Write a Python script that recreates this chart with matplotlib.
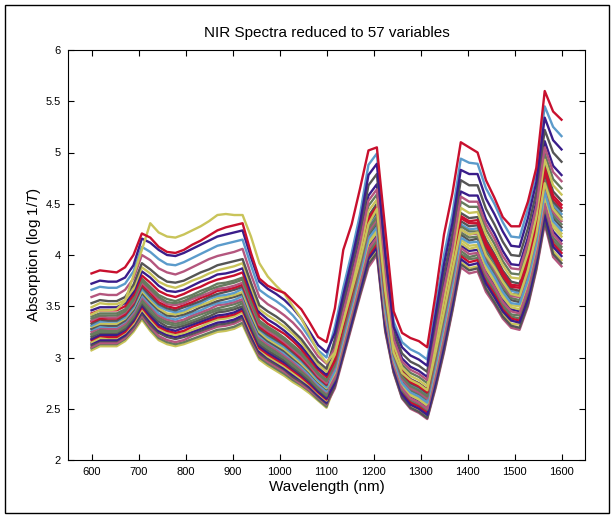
import matplotlib
matplotlib.use('Agg')
import matplotlib.pyplot as plt
import numpy as np
from matplotlib.patches import Rectangle

plt.rcParams['font.family'] = ['Liberation Sans', 'DejaVu Sans']
plt.rcParams['mathtext.fontset'] = 'custom'
plt.rcParams['mathtext.rm'] = 'Liberation Sans'
plt.rcParams['mathtext.it'] = 'Liberation Sans:italic'

# wavelength grid: 57 variables between 600 and 1600 nm
wavelength = np.linspace(600, 1600, 57)

xticks = [600, 700, 800, 900, 1000, 1100, 1200, 1300, 1400, 1500, 1600]
yticks = [2, 2.5, 3, 3.5, 4, 4.5, 5, 5.5, 6]
ytick_labels = ['2', '2.5', '3', '3.5', '4', '4.5', '5', '5.5', '6']

s01 = [3.07, 3.11, 3.11, 3.11, 3.16, 3.25, 3.37, 3.26, 3.17, 3.13, 3.11, 3.13, 3.16, 3.19, 3.22, 3.25, 3.26, 3.28, 3.32, 3.14, 2.98, 2.92, 2.87, 2.82, 2.76, 2.71, 2.65, 2.58, 2.51, 2.73, 3.03, 3.34, 3.64, 3.93, 4.05, 3.29, 2.88, 2.63, 2.53, 2.49, 2.43, 2.74, 3.10, 3.50, 3.93, 3.87, 3.89, 3.69, 3.57, 3.43, 3.33, 3.32, 3.55, 3.90, 4.36, 4.04, 3.95]
s02 = [3.10, 3.14, 3.14, 3.14, 3.19, 3.28, 3.41, 3.30, 3.21, 3.17, 3.15, 3.17, 3.21, 3.24, 3.27, 3.30, 3.31, 3.33, 3.37, 3.18, 3.02, 2.96, 2.91, 2.86, 2.80, 2.74, 2.68, 2.61, 2.54, 2.70, 3.00, 3.30, 3.60, 3.88, 4.00, 3.25, 2.85, 2.60, 2.50, 2.46, 2.40, 2.70, 3.05, 3.45, 3.88, 3.82, 3.84, 3.64, 3.52, 3.38, 3.29, 3.27, 3.50, 3.85, 4.30, 3.98, 3.89]
s03 = [3.14, 3.17, 3.17, 3.17, 3.22, 3.32, 3.45, 3.35, 3.26, 3.22, 3.20, 3.22, 3.25, 3.28, 3.31, 3.34, 3.35, 3.37, 3.41, 3.22, 3.06, 3.00, 2.95, 2.89, 2.83, 2.78, 2.71, 2.63, 2.56, 2.82, 3.14, 3.44, 3.76, 4.08, 4.20, 3.42, 2.95, 2.71, 2.62, 2.58, 2.52, 2.86, 3.24, 3.64, 4.09, 4.04, 4.05, 3.84, 3.72, 3.57, 3.47, 3.45, 3.69, 4.04, 4.53, 4.23, 4.14]
s04 = [3.17, 3.21, 3.20, 3.20, 3.25, 3.35, 3.49, 3.39, 3.30, 3.26, 3.24, 3.26, 3.30, 3.33, 3.36, 3.39, 3.40, 3.42, 3.46, 3.27, 3.09, 3.03, 2.98, 2.93, 2.87, 2.81, 2.74, 2.66, 2.59, 2.76, 3.07, 3.37, 3.68, 3.98, 4.10, 3.34, 2.90, 2.66, 2.56, 2.52, 2.46, 2.78, 3.15, 3.55, 3.99, 3.93, 3.95, 3.74, 3.62, 3.47, 3.38, 3.36, 3.60, 3.95, 4.42, 4.11, 4.02]
s05 = [3.20, 3.24, 3.24, 3.24, 3.28, 3.38, 3.53, 3.43, 3.35, 3.30, 3.29, 3.31, 3.34, 3.37, 3.40, 3.44, 3.45, 3.47, 3.50, 3.31, 3.13, 3.07, 3.02, 2.97, 2.90, 2.84, 2.77, 2.69, 2.62, 2.88, 3.20, 3.52, 3.84, 4.18, 4.30, 3.51, 3.00, 2.77, 2.67, 2.63, 2.57, 2.94, 3.34, 3.74, 4.20, 4.14, 4.16, 3.94, 3.81, 3.66, 3.56, 3.54, 3.79, 4.14, 4.65, 4.36, 4.27]
s06 = [3.23, 3.27, 3.27, 3.27, 3.32, 3.41, 3.57, 3.48, 3.39, 3.35, 3.33, 3.35, 3.39, 3.42, 3.45, 3.48, 3.50, 3.52, 3.55, 3.35, 3.17, 3.11, 3.06, 3.01, 2.94, 2.88, 2.80, 2.72, 2.65, 2.79, 3.10, 3.41, 3.72, 4.03, 4.15, 3.38, 2.93, 2.68, 2.59, 2.55, 2.49, 2.82, 3.19, 3.59, 4.04, 3.98, 4.00, 3.79, 3.67, 3.52, 3.42, 3.41, 3.64, 3.99, 4.47, 4.17, 4.08]
s07 = [3.27, 3.30, 3.30, 3.30, 3.35, 3.45, 3.61, 3.52, 3.43, 3.39, 3.37, 3.40, 3.43, 3.46, 3.50, 3.53, 3.54, 3.56, 3.60, 3.39, 3.21, 3.15, 3.10, 3.04, 2.98, 2.91, 2.83, 2.74, 2.67, 2.94, 3.27, 3.59, 3.92, 4.28, 4.40, 3.59, 3.05, 2.82, 2.73, 2.69, 2.63, 3.02, 3.43, 3.83, 4.30, 4.25, 4.26, 4.04, 3.91, 3.76, 3.65, 3.63, 3.88, 4.23, 4.76, 4.49, 4.40]
s08 = [3.30, 3.33, 3.33, 3.33, 3.38, 3.48, 3.65, 3.56, 3.48, 3.43, 3.42, 3.44, 3.48, 3.51, 3.54, 3.58, 3.59, 3.61, 3.64, 3.43, 3.25, 3.18, 3.13, 3.08, 3.01, 2.94, 2.86, 2.77, 2.70, 2.85, 3.17, 3.48, 3.80, 4.13, 4.25, 3.46, 2.98, 2.74, 2.65, 2.61, 2.55, 2.90, 3.29, 3.69, 4.15, 4.09, 4.10, 3.89, 3.77, 3.62, 3.51, 3.50, 3.74, 4.09, 4.59, 4.30, 4.21]
s09 = [3.33, 3.37, 3.36, 3.36, 3.41, 3.51, 3.69, 3.60, 3.52, 3.48, 3.46, 3.49, 3.52, 3.55, 3.59, 3.62, 3.64, 3.66, 3.69, 3.48, 3.28, 3.22, 3.17, 3.12, 3.05, 2.98, 2.89, 2.80, 2.73, 3.00, 3.34, 3.66, 4.00, 4.38, 4.50, 3.68, 3.10, 2.88, 2.79, 2.75, 2.69, 3.10, 3.53, 3.93, 4.41, 4.36, 4.37, 4.15, 4.01, 3.85, 3.74, 3.72, 3.98, 4.33, 4.88, 4.62, 4.53]
s10 = [3.36, 3.40, 3.39, 3.39, 3.44, 3.54, 3.73, 3.65, 3.57, 3.52, 3.51, 3.53, 3.57, 3.60, 3.63, 3.67, 3.68, 3.70, 3.73, 3.52, 3.32, 3.26, 3.21, 3.15, 3.08, 3.01, 2.92, 2.82, 2.75, 2.91, 3.24, 3.55, 3.88, 4.23, 4.35, 3.55, 3.03, 2.79, 2.70, 2.66, 2.60, 2.98, 3.38, 3.78, 4.25, 4.20, 4.21, 3.99, 3.86, 3.71, 3.60, 3.59, 3.83, 4.18, 4.70, 4.42, 4.33]
s11 = [3.40, 3.43, 3.43, 3.43, 3.47, 3.58, 3.77, 3.69, 3.61, 3.57, 3.55, 3.58, 3.61, 3.65, 3.68, 3.72, 3.73, 3.75, 3.78, 3.56, 3.36, 3.30, 3.25, 3.19, 3.12, 3.05, 2.95, 2.85, 2.78, 3.06, 3.41, 3.73, 4.08, 4.48, 4.59, 3.76, 3.15, 2.93, 2.85, 2.81, 2.75, 3.18, 3.62, 4.02, 4.52, 4.47, 4.47, 4.25, 4.11, 3.94, 3.82, 3.81, 4.07, 4.42, 4.99, 4.74, 4.65]
s12 = [3.43, 3.46, 3.46, 3.46, 3.50, 3.61, 3.80, 3.73, 3.65, 3.61, 3.59, 3.62, 3.66, 3.69, 3.73, 3.76, 3.78, 3.80, 3.83, 3.60, 3.40, 3.33, 3.28, 3.23, 3.16, 3.08, 2.98, 2.88, 2.81, 2.97, 3.31, 3.62, 3.96, 4.33, 4.45, 3.63, 3.08, 2.85, 2.76, 2.72, 2.66, 3.06, 3.48, 3.88, 4.36, 4.31, 4.31, 4.09, 3.96, 3.80, 3.69, 3.68, 3.93, 4.28, 4.82, 4.55, 4.46]
s13 = [3.46, 3.49, 3.49, 3.49, 3.53, 3.64, 3.84, 3.78, 3.70, 3.65, 3.64, 3.66, 3.70, 3.74, 3.77, 3.81, 3.82, 3.84, 3.87, 3.64, 3.44, 3.37, 3.32, 3.26, 3.19, 3.11, 3.01, 2.90, 2.83, 3.12, 3.48, 3.80, 4.16, 4.58, 4.69, 3.85, 3.20, 2.99, 2.91, 2.87, 2.81, 3.26, 3.72, 4.12, 4.62, 4.58, 4.58, 4.35, 4.21, 4.04, 3.91, 3.90, 4.17, 4.52, 5.11, 4.87, 4.78]
s14 = [3.49, 3.53, 3.52, 3.52, 3.56, 3.67, 3.88, 3.82, 3.74, 3.70, 3.68, 3.71, 3.75, 3.78, 3.82, 3.85, 3.87, 3.89, 3.92, 3.69, 3.47, 3.41, 3.36, 3.30, 3.23, 3.15, 3.04, 2.93, 2.86, 3.03, 3.37, 3.70, 4.04, 4.43, 4.54, 3.72, 3.13, 2.90, 2.82, 2.78, 2.72, 3.14, 3.57, 3.97, 4.46, 4.41, 4.42, 4.20, 4.06, 3.90, 3.78, 3.77, 4.02, 4.37, 4.93, 4.68, 4.59]
s15 = [3.53, 3.56, 3.55, 3.55, 3.59, 3.71, 3.92, 3.86, 3.79, 3.74, 3.73, 3.75, 3.79, 3.83, 3.86, 3.90, 3.92, 3.94, 3.96, 3.73, 3.51, 3.45, 3.40, 3.34, 3.26, 3.18, 3.07, 2.96, 2.89, 3.18, 3.54, 3.88, 4.24, 4.68, 4.79, 3.93, 3.25, 3.04, 2.96, 2.92, 2.86, 3.34, 3.81, 4.21, 4.73, 4.68, 4.68, 4.45, 4.30, 4.13, 4.00, 3.99, 4.26, 4.61, 5.22, 5.00, 4.91]
s16 = [3.59, 3.62, 3.61, 3.61, 3.66, 3.77, 4.00, 3.95, 3.87, 3.83, 3.81, 3.84, 3.88, 3.92, 3.96, 3.99, 4.01, 4.03, 4.06, 3.81, 3.59, 3.52, 3.47, 3.41, 3.34, 3.25, 3.13, 3.01, 2.94, 3.09, 3.44, 3.77, 4.12, 4.53, 4.64, 3.80, 3.18, 2.96, 2.88, 2.84, 2.78, 3.22, 3.67, 4.07, 4.57, 4.52, 4.52, 4.30, 4.16, 3.99, 3.87, 3.86, 4.12, 4.47, 5.05, 4.81, 4.72]
s17 = [3.66, 3.69, 3.68, 3.68, 3.72, 3.84, 4.08, 4.03, 3.96, 3.91, 3.90, 3.93, 3.97, 4.01, 4.05, 4.09, 4.11, 4.13, 4.15, 3.90, 3.66, 3.60, 3.55, 3.49, 3.41, 3.31, 3.19, 3.07, 3.00, 3.30, 3.68, 4.02, 4.40, 4.88, 4.99, 4.10, 3.35, 3.15, 3.08, 3.04, 2.98, 3.50, 4.00, 4.40, 4.94, 4.90, 4.89, 4.65, 4.50, 4.32, 4.18, 4.17, 4.45, 4.80, 5.45, 5.25, 5.16]
s18 = [3.72, 3.75, 3.74, 3.74, 3.78, 3.90, 4.16, 4.12, 4.05, 4.00, 3.99, 4.02, 4.06, 4.10, 4.14, 4.18, 4.20, 4.22, 4.24, 3.98, 3.74, 3.67, 3.62, 3.56, 3.48, 3.38, 3.25, 3.12, 3.05, 3.24, 3.61, 3.95, 4.32, 4.78, 4.89, 4.02, 3.30, 3.10, 3.02, 2.98, 2.92, 3.42, 3.91, 4.31, 4.83, 4.79, 4.79, 4.55, 4.40, 4.23, 4.09, 4.08, 4.36, 4.71, 5.34, 5.12, 5.03]
t01 = [3.09, 3.13, 3.13, 3.13, 3.18, 3.27, 3.39, 3.28, 3.19, 3.15, 3.13, 3.15, 3.18, 3.21, 3.24, 3.27, 3.28, 3.30, 3.34, 3.16, 3.00, 2.94, 2.89, 2.84, 2.78, 2.73, 2.67, 2.59, 2.52, 2.78, 3.09, 3.39, 3.70, 4.01, 4.12, 3.36, 2.91, 2.67, 2.57, 2.53, 2.47, 2.80, 3.17, 3.57, 4.01, 3.96, 3.97, 3.77, 3.64, 3.50, 3.40, 3.38, 3.62, 3.97, 4.44, 4.14, 4.05]
t02 = [3.12, 3.16, 3.16, 3.16, 3.21, 3.30, 3.43, 3.32, 3.24, 3.20, 3.18, 3.20, 3.23, 3.26, 3.29, 3.32, 3.33, 3.35, 3.39, 3.20, 3.04, 2.98, 2.93, 2.88, 2.81, 2.76, 2.70, 2.62, 2.55, 2.72, 3.02, 3.32, 3.62, 3.91, 4.02, 3.27, 2.86, 2.61, 2.51, 2.47, 2.41, 2.72, 3.07, 3.47, 3.91, 3.85, 3.87, 3.67, 3.54, 3.40, 3.31, 3.29, 3.52, 3.87, 4.33, 4.01, 3.92]
t03 = [3.15, 3.19, 3.19, 3.19, 3.24, 3.33, 3.47, 3.37, 3.28, 3.24, 3.22, 3.24, 3.27, 3.30, 3.34, 3.37, 3.38, 3.40, 3.44, 3.25, 3.08, 3.01, 2.96, 2.91, 2.85, 2.79, 2.73, 2.65, 2.58, 2.84, 3.15, 3.46, 3.78, 4.11, 4.22, 3.44, 2.96, 2.72, 2.63, 2.59, 2.53, 2.88, 3.26, 3.66, 4.12, 4.06, 4.08, 3.87, 3.74, 3.59, 3.49, 3.47, 3.71, 4.06, 4.56, 4.27, 4.18]
t04 = [3.18, 3.22, 3.22, 3.22, 3.27, 3.36, 3.51, 3.41, 3.32, 3.28, 3.26, 3.29, 3.32, 3.35, 3.38, 3.41, 3.42, 3.44, 3.48, 3.29, 3.11, 3.05, 3.00, 2.95, 2.89, 2.83, 2.76, 2.67, 2.60, 2.75, 3.05, 3.35, 3.66, 3.96, 4.07, 3.31, 2.89, 2.64, 2.54, 2.50, 2.44, 2.76, 3.12, 3.52, 3.96, 3.90, 3.92, 3.72, 3.59, 3.45, 3.36, 3.34, 3.57, 3.92, 4.39, 4.08, 3.99]
t05 = [3.22, 3.25, 3.25, 3.25, 3.30, 3.40, 3.55, 3.45, 3.37, 3.33, 3.31, 3.33, 3.36, 3.39, 3.43, 3.46, 3.47, 3.49, 3.53, 3.33, 3.15, 3.09, 3.04, 2.99, 2.92, 2.86, 2.79, 2.70, 2.63, 2.90, 3.22, 3.53, 3.86, 4.21, 4.32, 3.53, 3.01, 2.78, 2.69, 2.65, 2.59, 2.96, 3.36, 3.76, 4.22, 4.17, 4.18, 3.97, 3.84, 3.69, 3.58, 3.56, 3.81, 4.16, 4.67, 4.39, 4.30]
t06 = [3.25, 3.29, 3.28, 3.28, 3.33, 3.43, 3.59, 3.50, 3.41, 3.37, 3.35, 3.37, 3.41, 3.44, 3.47, 3.51, 3.52, 3.54, 3.57, 3.37, 3.19, 3.13, 3.08, 3.02, 2.96, 2.89, 2.82, 2.73, 2.66, 2.81, 3.12, 3.43, 3.74, 4.06, 4.17, 3.40, 2.94, 2.70, 2.60, 2.56, 2.50, 2.84, 3.22, 3.62, 4.07, 4.01, 4.02, 3.82, 3.69, 3.54, 3.45, 3.43, 3.67, 4.02, 4.50, 4.20, 4.11]
t07 = [3.28, 3.32, 3.31, 3.31, 3.36, 3.46, 3.63, 3.54, 3.46, 3.41, 3.40, 3.42, 3.45, 3.49, 3.52, 3.55, 3.57, 3.59, 3.62, 3.41, 3.23, 3.16, 3.11, 3.06, 2.99, 2.93, 2.85, 2.76, 2.69, 2.96, 3.29, 3.61, 3.94, 4.31, 4.42, 3.61, 3.06, 2.83, 2.75, 2.71, 2.65, 3.04, 3.45, 3.85, 4.33, 4.28, 4.29, 4.07, 3.94, 3.78, 3.67, 3.65, 3.90, 4.25, 4.79, 4.52, 4.43]
t08 = [3.31, 3.35, 3.35, 3.35, 3.39, 3.49, 3.67, 3.58, 3.50, 3.46, 3.44, 3.46, 3.50, 3.53, 3.57, 3.60, 3.61, 3.63, 3.67, 3.46, 3.27, 3.20, 3.15, 3.10, 3.03, 2.96, 2.88, 2.78, 2.71, 2.87, 3.19, 3.50, 3.82, 4.16, 4.27, 3.48, 2.99, 2.75, 2.66, 2.62, 2.56, 2.92, 3.31, 3.71, 4.17, 4.12, 4.13, 3.92, 3.79, 3.64, 3.53, 3.52, 3.76, 4.11, 4.62, 4.33, 4.24]
t09 = [3.35, 3.38, 3.38, 3.38, 3.42, 3.53, 3.71, 3.63, 3.54, 3.50, 3.48, 3.51, 3.54, 3.58, 3.61, 3.65, 3.66, 3.68, 3.71, 3.50, 3.30, 3.24, 3.19, 3.13, 3.07, 2.99, 2.91, 2.81, 2.74, 2.99, 3.32, 3.64, 3.98, 4.36, 4.47, 3.65, 3.09, 2.86, 2.78, 2.74, 2.68, 3.08, 3.50, 3.90, 4.38, 4.33, 4.34, 4.12, 3.99, 3.83, 3.71, 3.70, 3.95, 4.30, 4.85, 4.58, 4.49]
t10 = [3.38, 3.41, 3.41, 3.41, 3.45, 3.56, 3.75, 3.67, 3.59, 3.54, 3.53, 3.55, 3.59, 3.62, 3.66, 3.69, 3.71, 3.73, 3.76, 3.54, 3.34, 3.28, 3.23, 3.17, 3.10, 3.03, 2.94, 2.84, 2.77, 2.93, 3.26, 3.57, 3.90, 4.26, 4.37, 3.57, 3.04, 2.81, 2.72, 2.68, 2.62, 3.00, 3.41, 3.81, 4.28, 4.23, 4.23, 4.02, 3.89, 3.73, 3.62, 3.61, 3.86, 4.21, 4.73, 4.46, 4.37]
s_yellow_high = [3.42, 3.46, 3.46, 3.47, 3.55, 3.80, 4.05, 4.31, 4.22, 4.18, 4.17, 4.20, 4.24, 4.28, 4.33, 4.39, 4.40, 4.39, 4.39, 4.18, 3.92, 3.79, 3.70, 3.62, 3.50, 3.38, 3.22, 3.05, 2.95, 3.05, 3.35, 3.65, 3.95, 4.30, 4.45, 3.65, 3.05, 2.85, 2.78, 2.74, 2.68, 3.05, 3.45, 3.85, 4.25, 4.20, 4.22, 4.00, 3.88, 3.74, 3.62, 3.60, 3.85, 4.20, 4.70, 4.45, 4.35]
s_red_high = [3.82, 3.85, 3.84, 3.83, 3.88, 4.00, 4.21, 4.17, 4.08, 4.03, 4.02, 4.05, 4.10, 4.14, 4.19, 4.24, 4.27, 4.29, 4.31, 4.02, 3.77, 3.70, 3.66, 3.63, 3.55, 3.47, 3.34, 3.20, 3.15, 3.48, 4.05, 4.30, 4.65, 5.02, 5.05, 4.25, 3.45, 3.24, 3.19, 3.16, 3.10, 3.62, 4.20, 4.60, 5.10, 5.05, 5.00, 4.73, 4.56, 4.37, 4.28, 4.28, 4.52, 4.85, 5.60, 5.40, 5.32]

RED = '#C8102E'
PURPLE = '#3A1D8A'
PINK = '#B4567E'
BLUE = '#5B9BCB'
GREY = '#555555'
GREEN = '#667A5E'
YELLOW = '#C9C45A'

series = [s01, t01, s02, t02, s03, t03, s04, t04, s05, t05, s06, t06,
          s07, t07, s08, t08, s09, t09, s10, t10,
          s11, s12, s13, s14, s15, s16, s17, s18, s_yellow_high, s_red_high]
colors = [YELLOW, GREEN, PINK, GREY, PURPLE, YELLOW, RED, PURPLE, GREY, GREEN,
          GREEN, PINK, BLUE, GREY, YELLOW, BLUE, GREY, RED, PINK, GREEN,
          GREEN, RED, PURPLE, YELLOW, GREY, PINK, BLUE, PURPLE, YELLOW, RED]

fig = plt.figure(figsize=(6.15, 5.2), dpi=100)
ax = fig.add_axes([68 / 615, 1 - 460 / 520, 517 / 615, 410 / 520])

for s, c in zip(series, colors):
    ax.plot(wavelength, s, color=c, lw=1.7)

ax.set_xlim(550, 1650)
ax.set_ylim(2, 6)
ax.set_xticks(xticks)
ax.set_yticks(yticks)
ax.set_yticklabels(ytick_labels)
ax.tick_params(direction='in', top=True, right=True, length=4, width=0.8,
               labelsize=8, pad=5)
for sp in ax.spines.values():
    sp.set_linewidth(0.8)

ax.set_title('NIR Spectra reduced to 57 variables', fontsize=11, pad=9)
ax.set_xlabel('Wavelength (nm)', fontsize=11, labelpad=2)
ax.set_ylabel('Absorption (log 1/$T$)', fontsize=11, labelpad=2)

fig.add_artist(Rectangle((5 / 615, 1 - 513 / 520), 604 / 615, 508 / 520,
                         transform=fig.transFigure, fill=False,
                         edgecolor='black', linewidth=1.0))

fig.savefig('out.png', dpi=100)
